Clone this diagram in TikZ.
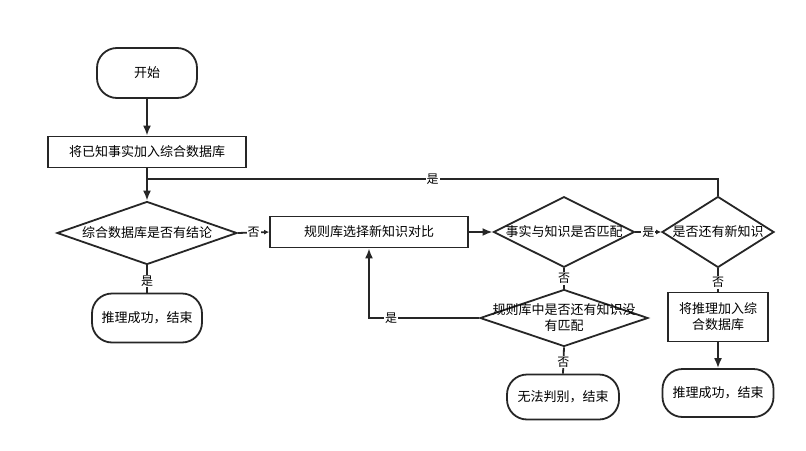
\documentclass[tikz,border=0pt]{standalone}
\usepackage{fontspec}
\newfontfamily\cjk{Noto Sans CJK SC}
\usepackage{tikz}
\usetikzlibrary{arrows.meta, shapes.geometric, positioning}

\begin{document}
\begin{tikzpicture}[
        x=1pt, y=-1pt,
        % Define styles for consistency
        every node/.style={
            font=\cjk\fontsize{13}{16}\selectfont
        },
        term/.style={
            rectangle,
            draw=black!85,
            line width=1.8pt,
            rounded corners=20pt,
            fill=white,
            align=center
        },
        block/.style={
            rectangle,
            draw=black!85,
            line width=1.8pt,
            fill=white,
            align=center
        },
        decision/.style={
            diamond,
            draw=black!85,
            line width=1.8pt,
            fill=white,
            align=center,
            inner sep=0pt
        },
        tag/.style={
            fill=white,
            inner sep=1pt,
            font=\cjk\fontsize{12}{14}\selectfont
        },
        line/.style={
            draw=black!85,
            line width=1.8pt,
            -{Latex[length=10pt,width=8pt]}
        },
        link/.style={
            draw=black!85,
            line width=1.8pt,
            -{Latex[length=5pt,width=5pt]}
        },
        connector/.style={
            draw=black!85,
            line width=1.8pt
        }
    ]

    \useasboundingbox (0,0) rectangle (806,450);

    % --- LEFT COLUMN ---

    \node[term, minimum width=100pt, minimum height=50pt] (start) at (147,73) {开始};
    \node[block, minimum width=198pt, minimum height=31pt] (addFact) at (147,152) {将已知事实加入综合数据库};
    \node[decision, aspect=2.86, minimum width=180pt, minimum height=63pt] (hasConc) at (147,233) {综合数据库是否有结论};
    \node[term, minimum width=110pt, minimum height=49pt] (success1) at (147,318) {推理成功，结束};

    % --- MATCHING ---

    \node[block, minimum width=198pt, minimum height=31pt] (select) at (369,232) {规则库选择新知识对比};
    \node[decision, aspect=2, minimum width=140pt, minimum height=70pt] (match) at (564,232) {事实与知识是否匹配};
    \node[decision, aspect=2.95, minimum width=168pt, minimum height=57pt,
          label={[align=center]center:规则库中是否还有知识没\\有匹配}] (remain) at (564,318) {};
    \node[term, minimum width=112pt, minimum height=45pt] (fail) at (563,397) {无法判别，结束};

    % --- RIGHT COLUMN ---

    \node[decision, aspect=1.58, minimum width=112pt, minimum height=71pt] (newKnow) at (718,232) {是否还有新知识};
    \node[block, minimum width=100pt, minimum height=49pt] (addInfer) at (718,317) {将推理加入综\\合数据库};
    \node[term, minimum width=111pt, minimum height=48pt] (success2) at (718,393) {推理成功，结束};

    % Connections
    \draw[line] (start) -- (addFact);
    \draw[line] (addFact) -- (hasConc);
    \draw[connector] (hasConc.south) -- node[tag, pos=0.58] {是} (success1.north);
    \draw[link] (hasConc.east) -- node[tag] {否} (select.west);

    \draw[line] (select.east) -- (match.west);
    \draw[link] (match.east) -- node[tag] {是} (newKnow.west);
    \draw[connector] (match.south) -- node[tag] {否} (remain.north);
    \draw[line] (remain.west) -| node[tag, pos=0.4] {是} (select.south);
    \draw[connector] (remain.south) -- node[tag, pos=0.55] {否} (fail.north);

    \draw[connector] (newKnow.south) -- node[tag, pos=0.6] {否} (addInfer.north);
    \draw[line] (addInfer) -- (success2);

    % Loop back to the database check
    \coordinate (loopL) at (147,179);
    \draw[connector] (newKnow.north) |- node[tag, pos=0.75] {是} (loopL);

\end{tikzpicture}
\end{document}
